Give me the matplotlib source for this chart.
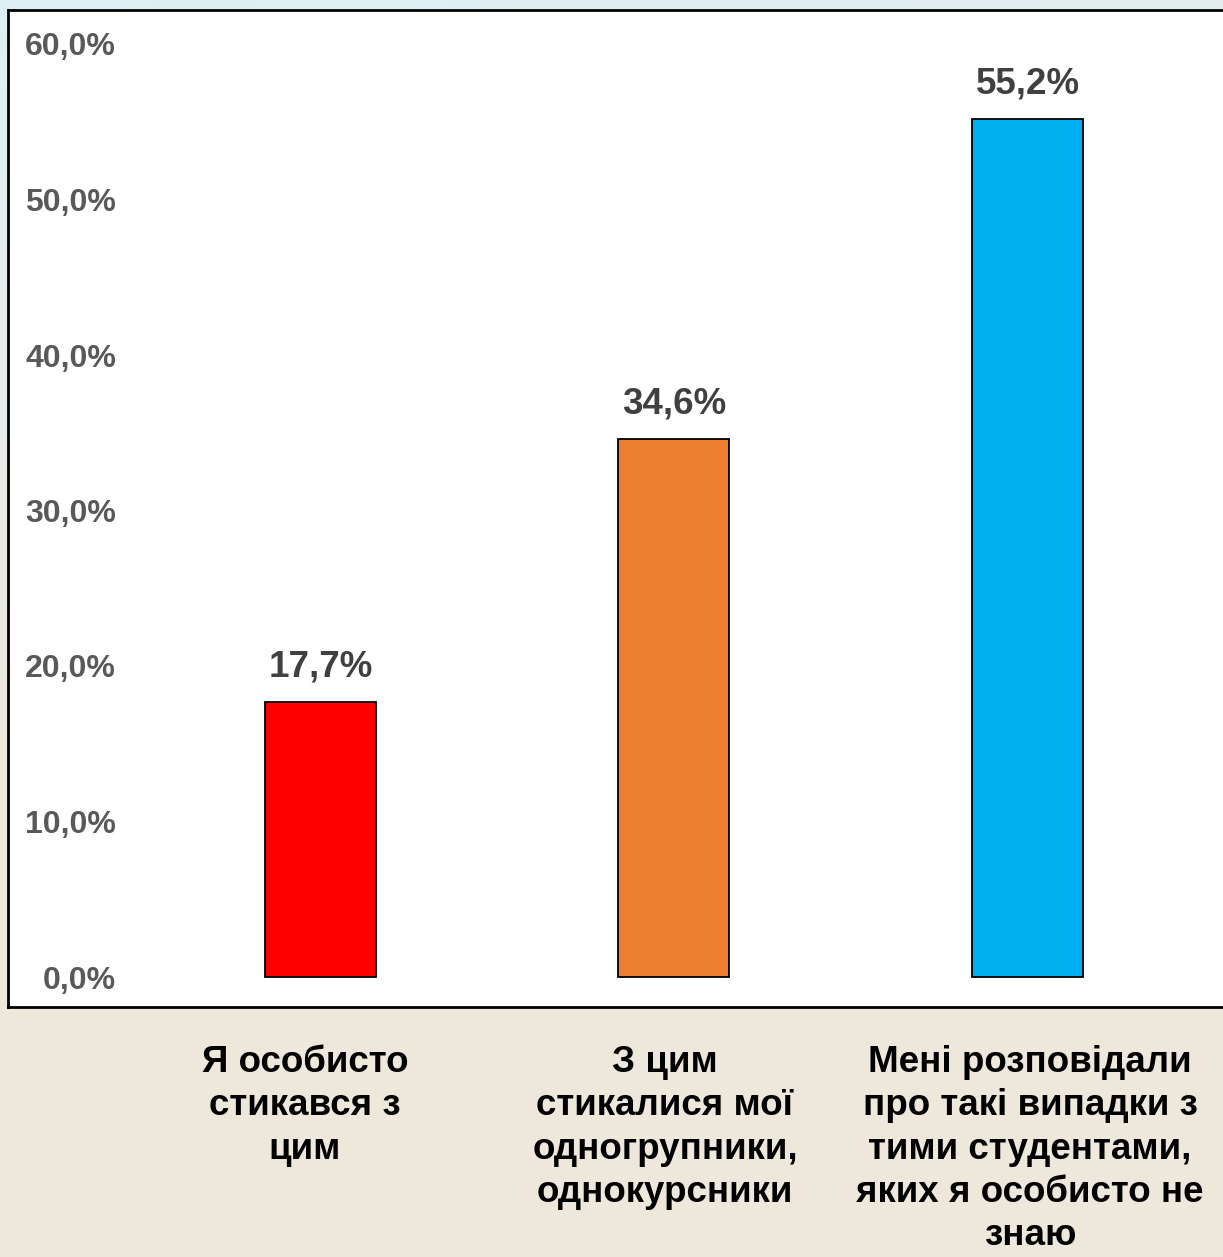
import numpy as np
import matplotlib
matplotlib.use("Agg")
import matplotlib.pyplot as plt
from matplotlib.ticker import FuncFormatter

categories = ["Я особисто\nстикався з\nцим",
              "З цим\nстикалися мої\nодногрупники,\nоднокурсники",
              "Мені розповідали\nпро такі випадки з\nтими студентами,\nяких я особисто не\nзнаю"]
values = [17.7, 34.6, 55.2]
colors = ["#FF0000", "#ED7D31", "#00B0F0"]
yticks = [0, 10, 20, 30, 40, 50, 60]

plt.rcParams['font.family'] = ['Liberation Sans', 'DejaVu Sans']

W, H = 1223, 1257
fig = plt.figure(figsize=(W/100, H/100), dpi=100)

# background gradient
bg = fig.add_axes([0, 0, 1, 1], zorder=-10)
ny, nx = 200, 200
yy, xx = np.mgrid[0:1:ny*1j, 0:1:nx*1j]
top = np.array([222, 240, 246]) / 255
bot = np.array([238, 231, 219]) / 255
t = np.clip(yy * 1.6 + xx * 0.3, 0, 1)[..., None]
img = top * (1 - t) + bot * t
bg.imshow(img, aspect='auto', extent=[0, 1, 1, 0])
bg.axis('off')

# axes: white box from x=8..1225, y=10..1007 px
left, right = 8, 1226
topp, bottom = 10, 1007
ax = fig.add_axes([left/W, 1 - bottom/H, (right-left)/W, (bottom-topp)/H])
ax.set_facecolor('white')

px_per = (977 - 44) / 60.0
ymin = -(bottom - 977) / px_per
ymax = 60 + (44 - topp) / px_per
ax.set_ylim(ymin, ymax)

xpx = 353.5
x0 = 320.5
ax.set_xlim((left - x0) / xpx, (right - x0) / xpx)

x = np.arange(len(values))
bars = ax.bar(x, values, width=111/xpx, color=colors, edgecolor='black', linewidth=1.3)

for xi, v in zip(x, values):
    ax.text(xi, v + 1.1, f"{v:.1f}%".replace('.', ','), ha='center', va='bottom',
            fontsize=26.5, fontweight='bold', color='#404040')

ax.set_yticks(yticks)
ax.yaxis.set_major_formatter(FuncFormatter(lambda v, p: f"{v:.1f}%".replace('.', ',')))
ax.tick_params(axis='y', direction='in', length=0, pad=-(108 * 0.72), labelsize=23, labelcolor='#595959')
for lab in ax.get_yticklabels():
    lab.set_fontweight('bold')
ax.set_xticks([])
for s in ax.spines.values():
    s.set_linewidth(2)
    s.set_color('black')

# category labels below
label_x = [305, 665, 1030]
for lx, c in zip(label_x, categories):
    fig.text(lx / W, 1 - 1045 / H, c, ha='center', va='top', fontsize=26.5,
             fontweight='bold', color='black', linespacing=1.31)

fig.savefig("out.png", dpi=100)
